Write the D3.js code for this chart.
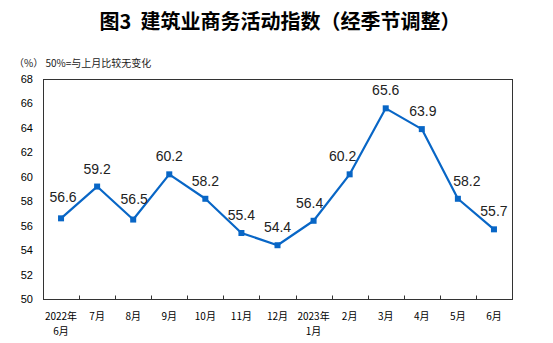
<!DOCTYPE html>
<html>
<head>
<meta charset="utf-8">
<script src="https://cdn.jsdelivr.net/npm/d3@7"></script>
<style>
  html, body { margin: 0; padding: 0; background: #fff; }
  svg { display: block; }
</style>
</head>
<body>
<script>
// Construction business activity index, seasonally adjusted, Jun 2022 – Jun 2023
const months = ["2022年\n6月", "7月", "8月", "9月", "10月", "11月", "12月", "2023年\n1月", "2月", "3月", "4月", "5月", "6月"];
const values = [56.6, 59.2, 56.5, 60.2, 58.2, 55.4, 54.4, 56.4, 60.2, 65.6, 63.9, 58.2, 55.7];
const yTicks = [50, 52, 54, 56, 58, 60, 62, 64, 66, 68];
const title = "图3  建筑业商务活动指数（经季节调整）";
const note = "（%） 50%=与上月比较无变化";

// small label nudges [dx, dy] where labels would collide with the line
const labelNudge = [[2, -3], [0, 0], [1, -3], [0, 0], [0, 0], [0, 0], [0, 0], [-4, 0], [-7, 0], [0, 0], [1, 0], [9, 0], [0, 0]];

const W = 553, H = 343;
const m = { left: 43, right: 41, top: 79, bottom: 44 };
const color = "#0866c6";

const svg = d3.select("body").append("svg").attr("width", W).attr("height", H);

const x = d3.scaleBand().domain(d3.range(months.length)).range([m.left, W - m.right]);
const y = d3.scaleLinear().domain([50, 68]).range([H - m.bottom, m.top]);

// title
svg.append("text")
  .attr("x", 280).attr("y", 29)
  .attr("text-anchor", "middle")
  .style("white-space", "pre")
  .style("font-family", "'Noto Sans CJK SC', sans-serif")
  .style("font-weight", "bold")
  .style("font-size", "20px")
  .attr("fill", "#000")
  .text(title);

svg.append("text")
  .attr("x", 14).attr("y", 67)
  .style("font-family", "'Noto Sans CJK SC', sans-serif")
  .style("font-size", "10px")
  .attr("fill", "#222")
  .text(note);

// frame
svg.append("rect")
  .attr("x", m.left + 0.5).attr("y", m.top + 0.5)
  .attr("width", W - m.left - m.right).attr("height", H - m.top - m.bottom)
  .attr("fill", "none").attr("stroke", "#333").attr("stroke-width", 1);

// y axis labels
const yAxis = d3.axisLeft(y).tickValues(yTicks).tickSize(0).tickPadding(10);
const gy = svg.append("g").attr("transform", `translate(${m.left},0)`).call(yAxis);
gy.select(".domain").remove();
gy.selectAll("text")
  .style("font-family", "'Liberation Sans', Arial, sans-serif")
  .style("font-size", "11px")
  .attr("fill", "#000");

// x axis: inward ticks at band boundaries, labels under band centres
const xb = svg.append("g").attr("transform", `translate(0,${H - m.bottom + 0.5})`);
const bounds = d3.range(1, months.length).map(i => x(i));
xb.selectAll("line.tick").data(bounds).join("line")
  .attr("class", "tick")
  .attr("x1", d => Math.round(d) + 0.5).attr("x2", d => Math.round(d) + 0.5)
  .attr("y1", 0).attr("y2", -4)
  .attr("stroke", "#333");

// each line of a month label is its own text element
const labelLines = months.flatMap((d, i) => d.split("\n").map((t, j) => ({ t, i, j })));
xb.selectAll("text.lab").data(labelLines).join("text")
  .attr("class", "lab")
  .attr("x", d => x(d.i) + x.bandwidth() / 2)
  .attr("y", d => 20 + d.j * 15)
  .attr("text-anchor", "middle")
  .style("font-family", "'Noto Sans CJK SC', sans-serif")
  .style("font-size", "10px")
  .attr("fill", "#000")
  .text(d => d.t);

// series line
const cx = i => x(i) + x.bandwidth() / 2;
const line = d3.line().x((d, i) => cx(i)).y(d => y(d));
svg.append("path")
  .datum(values)
  .attr("d", line)
  .attr("fill", "none")
  .attr("stroke", color)
  .attr("stroke-width", 2.2)
  .attr("stroke-linejoin", "round");

// square markers
svg.selectAll("rect.mk").data(values).join("rect")
  .attr("class", "mk")
  .attr("x", (d, i) => cx(i) - 3).attr("y", d => y(d) - 3)
  .attr("width", 6).attr("height", 6)
  .attr("fill", color);

// value labels
svg.selectAll("text.val").data(values).join("text")
  .attr("class", "val")
  .attr("x", (d, i) => cx(i) + labelNudge[i][0])
  .attr("y", (d, i) => y(d) - 13 + labelNudge[i][1])
  .attr("text-anchor", "middle")
  .style("font-family", "'Liberation Sans', Arial, sans-serif")
  .style("font-size", "14px")
  .attr("fill", "#222")
  .text(d => d.toFixed(1));
</script>
</body>
</html>
